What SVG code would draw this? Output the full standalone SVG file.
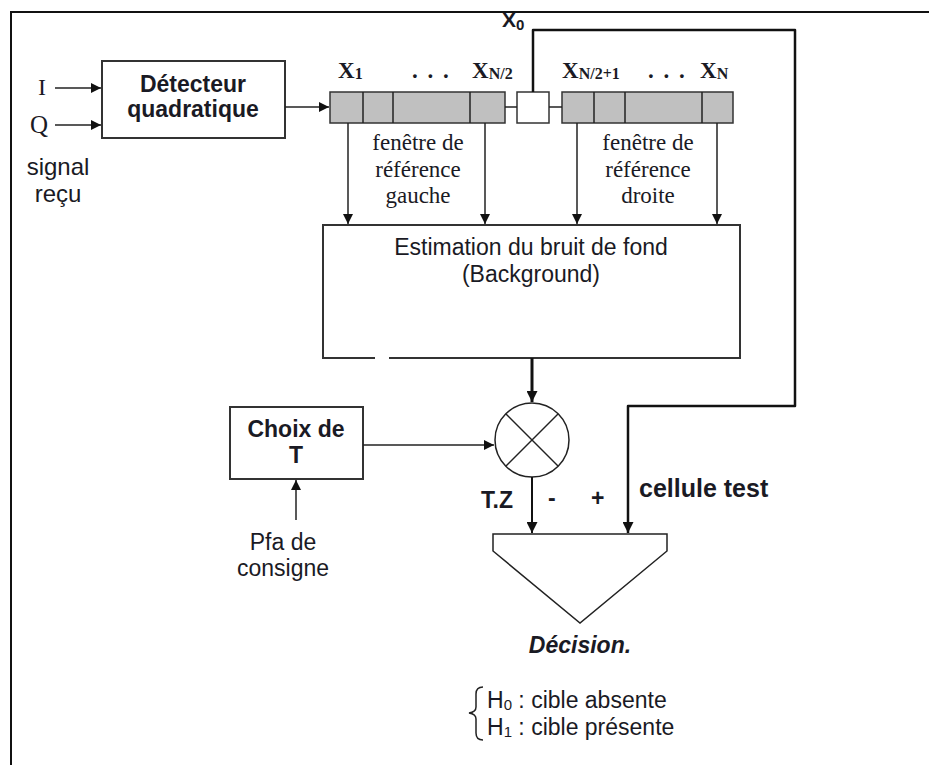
<svg xmlns="http://www.w3.org/2000/svg" width="929" height="765" viewBox="0 0 929 765">
<defs>
<marker id="ah" viewBox="0 0 10 10" refX="10" refY="5" markerWidth="10" markerHeight="10" markerUnits="userSpaceOnUse" orient="auto"><path d="M0,0 L10,5 L0,10 z" fill="#111"/></marker>
<marker id="ahb" viewBox="0 0 10 10" refX="10" refY="5" markerWidth="11" markerHeight="11" markerUnits="userSpaceOnUse" orient="auto"><path d="M0,0 L10,5 L0,10 z" fill="#111"/></marker>
</defs>
<style>
.ln{stroke:#222;stroke-width:1.5;fill:none}
.lb{stroke:#111;stroke-width:3;fill:none}
.box{stroke:#333;stroke-width:2;fill:#fff}
.cell{stroke:#333;stroke-width:1.5;fill:#c0c0c0}
.sans{font-family:"Liberation Sans",Arial,sans-serif;fill:#1a1a24}
.serif{font-family:"Liberation Serif","Times New Roman",serif;fill:#1a1a24}
.b{font-weight:bold}
</style>
<rect width="929" height="765" fill="#fff"/>
<path d="M11,765 V12 H929" stroke="#111" stroke-width="2" fill="none"/>

<g id="inputs">
<text class="serif" x="38" y="95" font-size="24">I</text>
<text class="serif" x="30" y="133" font-size="25">Q</text>
<text class="sans" x="58" y="175" font-size="24" text-anchor="middle">signal</text>
<text class="sans" x="58" y="202" font-size="24" text-anchor="middle">reçu</text>
</g>

<g id="detecteur">
<rect class="box" x="102" y="61" width="183" height="77"/>
<text class="sans b" x="193" y="92" font-size="23" text-anchor="middle">Détecteur</text>
<text class="sans b" x="193" y="117" font-size="23" text-anchor="middle">quadratique</text>
</g>

<g id="fenetre-gauche">
<rect class="cell" x="330" y="92" width="175" height="31"/>
<line class="ln" x1="363" y1="92" x2="363" y2="123"/>
<line class="ln" x1="393" y1="92" x2="393" y2="123"/>
<line class="ln" x1="470" y1="92" x2="470" y2="123"/>
<text class="serif b" x="338" y="78" font-size="23">X<tspan font-size="16" dy="1">1</tspan></text>
<text class="serif b" x="412" y="78" font-size="23" letter-spacing="2">. . .</text>
<text class="serif b" x="472" y="78" font-size="23">X<tspan font-size="16" dy="1">N/2</tspan></text>
<text class="serif" x="418" y="150" font-size="23" text-anchor="middle">fenêtre de</text>
<text class="serif" x="418" y="177" font-size="23" text-anchor="middle">référence</text>
<text class="serif" x="418" y="203" font-size="23" text-anchor="middle">gauche</text>
</g>

<g id="cellule-x0">
<rect x="517" y="92" width="32" height="31" fill="#fff" stroke="#333" stroke-width="1.5"/>
<text class="sans b" x="502" y="27" font-size="21">X<tspan font-size="15" dy="3">0</tspan></text>
</g>

<g id="fenetre-droite">
<rect class="cell" x="562" y="92" width="171" height="31"/>
<line class="ln" x1="594" y1="92" x2="594" y2="123"/>
<line class="ln" x1="625" y1="92" x2="625" y2="123"/>
<line class="ln" x1="702" y1="92" x2="702" y2="123"/>
<text class="serif b" x="562" y="78" font-size="23">X<tspan font-size="16" dy="1">N/2+1</tspan></text>
<text class="serif b" x="648" y="78" font-size="23" letter-spacing="2">. . .</text>
<text class="serif b" x="700" y="78" font-size="23">X<tspan font-size="16" dy="1">N</tspan></text>
<text class="serif" x="648" y="150" font-size="23" text-anchor="middle">fenêtre de</text>
<text class="serif" x="648" y="177" font-size="23" text-anchor="middle">référence</text>
<text class="serif" x="648" y="203" font-size="23" text-anchor="middle">droite</text>
</g>

<g id="estimation">
<path d="M375,358 H323 V225 H740 V358 H389" stroke="#333" stroke-width="2" fill="#fff"/>
<text class="sans" x="531" y="255" font-size="23" text-anchor="middle">Estimation du bruit de fond</text>
<text class="sans" x="531" y="282" font-size="23" text-anchor="middle">(Background)</text>
</g>

<g id="multiplieur">
<circle cx="532" cy="440" r="37" fill="#fff" stroke="#222" stroke-width="1.5"/>
<line class="ln" x1="506" y1="414" x2="558" y2="466"/>
<line class="ln" x1="558" y1="414" x2="506" y2="466"/>
</g>

<g id="choix-t">
<rect class="box" x="230" y="407" width="133" height="72"/>
<text class="sans b" x="296" y="437" font-size="23" text-anchor="middle">Choix de</text>
<text class="sans b" x="296" y="463" font-size="23" text-anchor="middle">T</text>
</g>

<g id="pfa">
<text class="sans" x="283" y="550" font-size="23" text-anchor="middle">Pfa de</text>
<text class="sans" x="283" y="576" font-size="23" text-anchor="middle">consigne</text>
</g>

<g id="decision">
<path d="M493,534 H667 V551 L580,623 L493,551 Z" fill="#fff" stroke="#222" stroke-width="1.5"/>
<text class="sans b" x="580" y="653" font-size="23" font-style="italic" text-anchor="middle">Décision.</text>
</g>

<g id="hypotheses">
<path d="M483,687 Q476,687 476,694 V707 Q476,712 469,713 Q476,714 476,719 V733 Q476,740 483,740" stroke="#222" stroke-width="1.5" fill="none"/>
<text class="sans" x="487" y="708" font-size="23">H<tspan font-size="15" dy="2">0</tspan><tspan dy="-2"> : cible absente</tspan></text>
<text class="sans" x="487" y="735" font-size="23">H<tspan font-size="15" dy="2">1</tspan><tspan dy="-2"> : cible présente</tspan></text>
</g>

<g id="labels">
<text class="sans b" x="481" y="508" font-size="23">T.Z</text>
<text class="sans b" x="548" y="506" font-size="23">-</text>
<text class="sans b" x="591" y="506" font-size="23">+</text>
<text class="sans b" x="639" y="497" font-size="25">cellule test</text>
</g>

<g id="connectors">
<line class="ln" x1="55" y1="88" x2="101" y2="88" marker-end="url(#ah)"/>
<line class="ln" x1="55" y1="125" x2="101" y2="125" marker-end="url(#ah)"/>
<line class="ln" x1="285" y1="107" x2="329" y2="107" marker-end="url(#ah)"/>
<line class="ln" x1="505" y1="107" x2="517" y2="107"/>
<line class="ln" x1="549" y1="107" x2="562" y2="107"/>
<line class="ln" x1="348" y1="123" x2="348" y2="224" marker-end="url(#ah)"/>
<line class="ln" x1="485" y1="123" x2="485" y2="224" marker-end="url(#ah)"/>
<line class="ln" x1="577" y1="123" x2="577" y2="224" marker-end="url(#ah)"/>
<line class="ln" x1="717" y1="123" x2="717" y2="224" marker-end="url(#ah)"/>
<line class="lb" x1="532" y1="358" x2="532" y2="402" marker-end="url(#ahb)"/>
<line class="ln" x1="363" y1="445" x2="494" y2="445" marker-end="url(#ah)"/>
<line class="ln" x1="296" y1="520" x2="296" y2="480" marker-end="url(#ah)"/>
<line x1="532" y1="477" x2="532" y2="533" stroke="#111" stroke-width="2" marker-end="url(#ahb)"/>
<path d="M533,92 V30 H795 V406 H628 V533" stroke="#111" stroke-width="2.5" fill="none" stroke-linejoin="round" marker-end="url(#ahb)"/>
</g>
</svg>
